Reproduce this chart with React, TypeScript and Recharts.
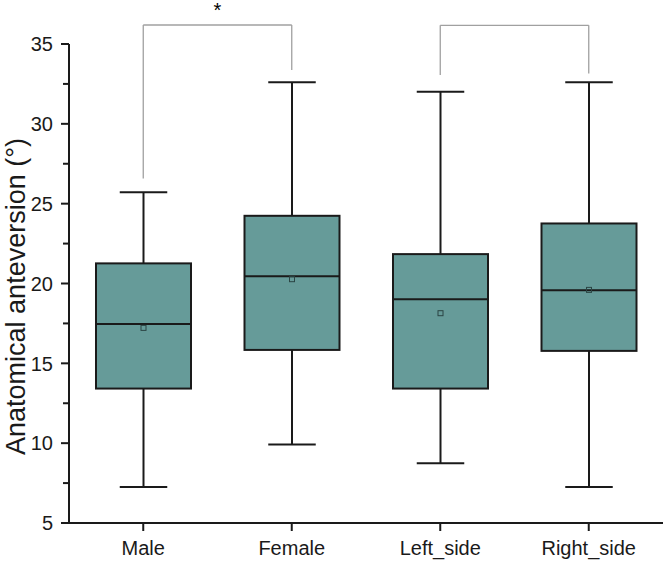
import { ComposedChart, Bar, XAxis, YAxis, ReferenceLine, Label } from 'recharts'

// box plot stats
const groups = ['Male', 'Female', 'Left_side', 'Right_side']
const whiskerLow = [7.26, 9.91, 8.74, 7.26]
const q1 = [13.42, 15.84, 13.42, 15.78]
const median = [17.47, 20.46, 19.02, 19.57]
const q3 = [21.26, 24.24, 21.84, 23.76]
const whiskerHigh = [25.71, 32.6, 32.01, 32.6]
const means = [17.22, 20.27, 18.14, 19.6]

const yTicks = [5, 7.5, 10, 12.5, 15, 17.5, 20, 22.5, 25, 27.5, 30, 32.5, 35]

// significance brackets (drawn above the plot area)
const bracketFrom = ['Male', 'Left_side']
const bracketTo = ['Female', 'Right_side']
const bracketTop = [36.19, 36.17]
const bracketFromEnd = [26.58, 33.06]
const bracketToEnd = [33.37, 33.16]
const bracketMark = ['*', '']

const data = groups.map((name, i) => ({
  name,
  low: whiskerLow[i],
  q1: q1[i],
  median: median[i],
  q3: q3[i],
  high: whiskerHigh[i],
  mean: means[i],
}))

const FONT = '"Liberation Sans", Arial, sans-serif'
const INK = '#1a1a1a'
const FILL = '#669b99'
const TICK_SIZE = 8
const TICK_MARGIN = 8

function BoxShape(props: any) {
  const { x, y, width, height, payload } = props
  const lo = payload.low
  const hi = payload.high
  const py = (v: number) => y + (height * (hi - v)) / (hi - lo)
  const cx = x + width / 2
  const cap = width / 4
  return (
    <g>
      <line x1={cx} x2={cx} y1={py(hi)} y2={py(payload.q3)} stroke={INK} strokeWidth={2} />
      <line x1={cx} x2={cx} y1={py(payload.q1)} y2={py(lo)} stroke={INK} strokeWidth={2} />
      <line x1={cx - cap} x2={cx + cap} y1={py(hi)} y2={py(hi)} stroke={INK} strokeWidth={2} />
      <line x1={cx - cap} x2={cx + cap} y1={py(lo)} y2={py(lo)} stroke={INK} strokeWidth={2} />
      <rect
        x={x}
        y={py(payload.q3)}
        width={width}
        height={py(payload.q1) - py(payload.q3)}
        fill={FILL}
        stroke={INK}
        strokeWidth={2}
      />
      <line
        x1={x}
        x2={x + width}
        y1={py(payload.median)}
        y2={py(payload.median)}
        stroke={INK}
        strokeWidth={2}
      />
      <rect
        x={cx - 2.5}
        y={py(payload.mean) - 2.5}
        width={5}
        height={5}
        fill="none"
        stroke="#2b4544"
        strokeWidth={1}
      />
    </g>
  )
}

function YTick(props: any) {
  const { x, y, payload } = props
  const major = payload.value % 5 === 0
  const axisX = x + TICK_MARGIN + TICK_SIZE
  return (
    <g>
      <line x1={axisX - (major ? 8 : 6)} x2={axisX} y1={y} y2={y} stroke={INK} strokeWidth={2} />
      {major && (
        <text x={x} y={y} dy="0.36em" textAnchor="end" fontSize={20} fill={INK} fontFamily={FONT}>
          {payload.value}
        </text>
      )}
    </g>
  )
}

function YTitle(props: any) {
  const vb = props.viewBox
  const cx = vb.x + 15
  const cy = vb.y + vb.height / 2 + 13
  return (
    <text
      x={cx}
      y={cy}
      dy="0.36em"
      transform={`rotate(-90 ${cx} ${cy})`}
      textAnchor="middle"
      fontSize={27}
      fill={INK}
      fontFamily={FONT}
    >
      Anatomical anteversion (°)
    </text>
  )
}

export default function App() {
  return (
    <div
      style={{
        position: 'absolute',
        left: 0,
        top: 0,
        width: 666,
        height: 561,
        background: '#FFFFFF',
      }}
    >
      <ComposedChart
        width={666}
        height={561}
        data={data}
        margin={{ top: 44, right: 3, bottom: 0, left: 0 }}
      >
        <XAxis
          dataKey="name"
          height={38}
          tickSize={8}
          tickMargin={10}
          axisLine={{ stroke: INK, strokeWidth: 2 }}
          tickLine={{ stroke: INK, strokeWidth: 2 }}
          tick={{ fill: INK, fontSize: 20, fontFamily: FONT }}
        />
        <YAxis
          width={69}
          domain={[5, 35]}
          ticks={yTicks}
          interval={0}
          tickSize={TICK_SIZE}
          tickMargin={TICK_MARGIN}
          tickLine={false}
          axisLine={{ stroke: INK, strokeWidth: 2 }}
          tick={<YTick />}
        >
          <Label content={<YTitle />} />
        </YAxis>

        <Bar
          dataKey={(d: any) => [d.low, d.high]}
          barSize={95}
          shape={<BoxShape />}
          isAnimationActive={false}
        />

        {bracketFrom.map((from, i) => (
          <ReferenceLine
            key={`h${i}`}
            segment={[
              { x: from, y: bracketTop[i] },
              { x: bracketTo[i], y: bracketTop[i] },
            ]}
            stroke="#a0a0a0"
            strokeWidth={1.3}
            ifOverflow="visible"
            label={
              bracketMark[i]
                ? { value: bracketMark[i], position: 'top', offset: 8, fill: '#000', fontSize: 20, fontFamily: FONT }
                : undefined
            }
          />
        ))}
        {bracketFrom.map((from, i) => (
          <ReferenceLine
            key={`l${i}`}
            segment={[
              { x: from, y: bracketTop[i] },
              { x: from, y: bracketFromEnd[i] },
            ]}
            stroke="#a0a0a0"
            strokeWidth={1.3}
            ifOverflow="visible"
          />
        ))}
        {bracketTo.map((to, i) => (
          <ReferenceLine
            key={`r${i}`}
            segment={[
              { x: to, y: bracketTop[i] },
              { x: to, y: bracketToEnd[i] },
            ]}
            stroke="#a0a0a0"
            strokeWidth={1.3}
            ifOverflow="visible"
          />
        ))}
      </ComposedChart>
    </div>
  )
}
